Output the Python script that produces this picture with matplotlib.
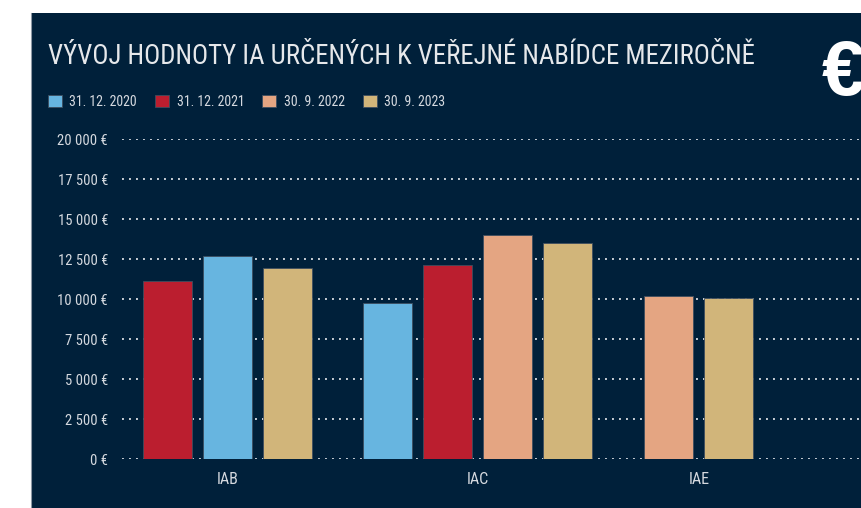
import matplotlib
matplotlib.use("Agg")
import matplotlib.pyplot as plt
from matplotlib import font_manager
from matplotlib.patches import Rectangle
from matplotlib.lines import Line2D

# values in EUR, one list per reporting date, aligned with CATEGORIES
CATEGORIES = ["IAB", "IAC", "IAE"]
SERIES = ["31. 12. 2020", "31. 12. 2021", "30. 9. 2022", "30. 9. 2023"]
COLORS = ["#67b5e0", "#bb1e2f", "#e4a582", "#d1b57a"]
V_2020 = [12700, 9770, None]
V_2021 = [11150, 12150, None]
V_2022 = [None, 14000, 10200]
V_2023 = [11950, 13500, 10080]
VALUES = [V_2020, V_2021, V_2022, V_2023]
# left-to-right order of series inside each category
ORDER = [[1, 0, 3], [0, 1, 2, 3], [2, 3]]
Y_TICKS = [0, 2500, 5000, 7500, 10000, 12500, 15000, 17500, 20000]

TITLE = "VÝVOJ HODNOTY IA URČENÝCH K VEŘEJNÉ NABÍDCE MEZIROČNĚ"

# layout (x axis runs in pixel-like units)
W, H = 862, 508
GROUP_X = [228, 478, 699]
SLOT = 60
BAR_W = 49
BG = "#00203a"
TXT = "#d5d9df"

# narrowest sans family that is installed
installed = {f.name for f in font_manager.fontManager.ttflist}
narrow = next((n for n in ["Liberation Sans Narrow", "Roboto Condensed",
                           "Open Sans Condensed", "DejaVu Sans Condensed",
                           "Roboto"] if n in installed), "DejaVu Sans")
plt.rcParams["font.family"] = [narrow, "DejaVu Sans"]

fig = plt.figure(figsize=(W / 100, H / 100), dpi=100, facecolor="white")
fig.patches.append(Rectangle((31 / W, 0), 1 - 31 / W, 1 - 13 / H,
                             transform=fig.transFigure, facecolor=BG,
                             edgecolor="none", zorder=-5))
fig.lines.append(Line2D([31.5 / W, 31.5 / W], [0, 1 - 13 / H],
                        transform=fig.transFigure, color="#8d98a5", lw=0.8,
                        zorder=-4))

ax = fig.add_axes([122 / W, 1 - 459.3 / H, (W - 122) / W, 320 / H])
ax.set_facecolor("none")
ax.set_xlim(122, W)
ax.set_ylim(0, 20000)

for s, (name, col, vals) in enumerate(zip(SERIES, COLORS, VALUES)):
    xs, hs = [], []
    for c, v in enumerate(vals):
        if v is None:
            continue
        order = ORDER[c]
        pos = order.index(s) - (len(order) - 1) / 2
        xs.append(GROUP_X[c] + pos * SLOT)
        hs.append(v)
    ax.bar(xs, hs, width=BAR_W, color=col, edgecolor="#3d4d5e",
           linewidth=0.6, label=name, zorder=3)

ax.set_yticks(Y_TICKS)
ax.set_yticklabels([f"{v:,}".replace(",", " ") + " €" for v in Y_TICKS])
ax.set_xticks(GROUP_X)
ax.set_xticklabels(CATEGORIES)
ax.tick_params(axis="y", length=0, pad=10, labelsize=10.5, labelcolor=TXT)
ax.tick_params(axis="x", length=0, pad=9, labelsize=11.5, labelcolor=TXT)
ax.grid(axis="y", color="#c9ced6", linestyle=(0, (1, 2.6)), linewidth=1.4,
        zorder=1)
ax.set_axisbelow(True)
for sp in ax.spines.values():
    sp.set_visible(False)

title = fig.text(48 / W, 1 - 64 / H, TITLE, fontsize=20, color="#e6e8eb",
                 ha="left", va="baseline")
# squeeze the title into the space left of the euro sign
r = fig.canvas.get_renderer()
tw = title.get_window_extent(r).width
title.set_fontsize(20 * min(1.0, 708 / tw))

fig.text(822 / W, 1 - 95 / H, "€", fontsize=56, fontweight="bold",
         color="white", ha="left", va="baseline",
         family=["Liberation Sans", "DejaVu Sans"])

leg = fig.legend(loc="upper left", bbox_to_anchor=(45 / W, 1 - 92 / H),
                 ncol=4, frameon=False, fontsize=10, labelcolor=TXT,
                 handlelength=1.0, handleheight=1.0, handletextpad=0.55,
                 columnspacing=1.3, borderpad=0.2, borderaxespad=0)

fig.savefig("out.png", dpi=100, facecolor="white")
